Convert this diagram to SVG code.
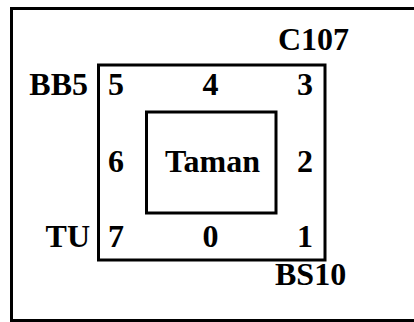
<svg xmlns="http://www.w3.org/2000/svg" width="414" height="322" viewBox="0 0 414 322">
<style>
.box{fill:none;stroke:#000;stroke-width:3}
text{font-family:"Liberation Serif","Times New Roman",serif;font-weight:bold;font-size:32px;fill:#000}
.m{text-anchor:middle}
.e{text-anchor:end}
</style>
<rect width="414" height="322" fill="#fff"/>
<g id="outer"><rect class="box" x="11.5" y="8.5" width="420" height="312"/></g>
<g id="ring"><rect class="box" x="98.5" y="65" width="226.5" height="195"/></g>
<g id="taman"><rect class="box" x="146.5" y="112" width="129.5" height="101"/><text class="m" x="212.5" y="172">Taman</text></g>
<g id="labels">
<text x="278" y="50">C107</text>
<text class="e" x="88" y="95">BB5</text>
<text class="e" x="90" y="247">TU</text>
<text x="275" y="285">BS10</text>
</g>
<g id="cells">
<text class="m" x="116" y="95">5</text>
<text class="m" x="210.5" y="95">4</text>
<text class="m" x="305" y="95">3</text>
<text class="m" x="116" y="172">6</text>
<text class="m" x="305" y="172">2</text>
<text class="m" x="116" y="247">7</text>
<text class="m" x="210.5" y="247">0</text>
<text class="m" x="305" y="247">1</text>
</g>
<g id="connectors"></g>
</svg>
